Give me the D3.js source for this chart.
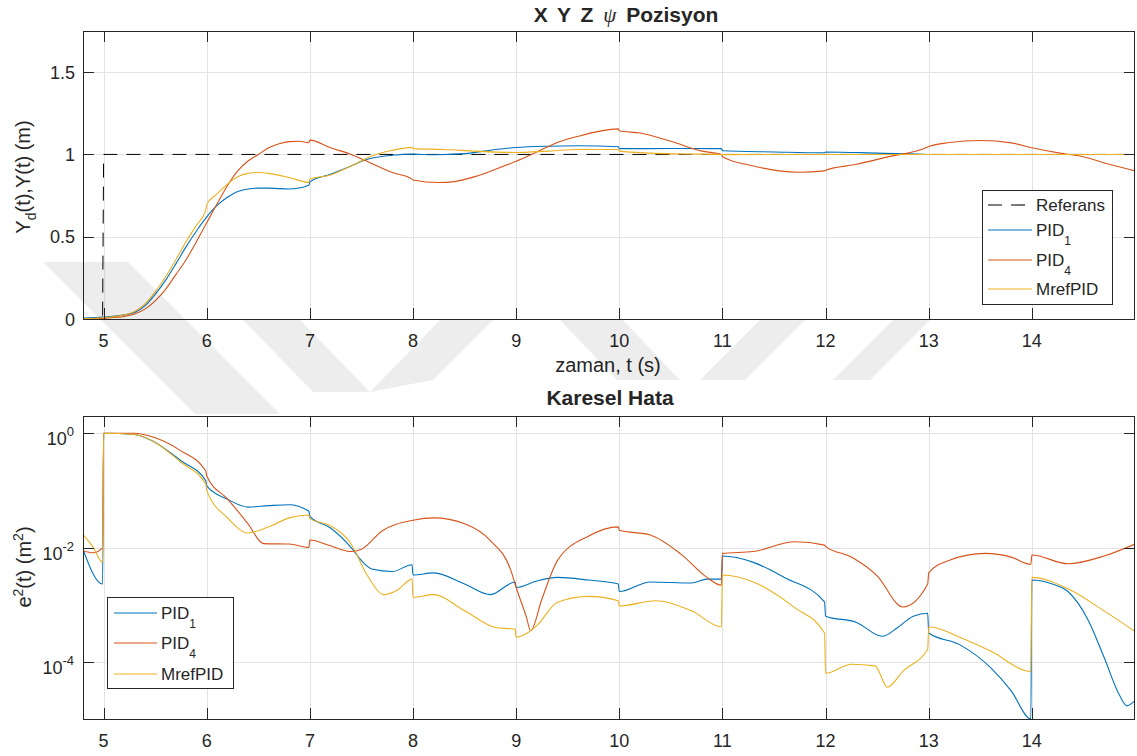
<!DOCTYPE html>
<html>
<head>
<meta charset="utf-8">
<script src="https://cdn.jsdelivr.net/npm/d3@7"></script>
<style>
  body { margin: 0; background: #fff; }
  text { font-family: "Liberation Sans", Arial, Helvetica, sans-serif; fill: #262626; }
</style>
</head>
<body>
<svg id="chart" width="1137" height="756"></svg>
<script>
// ---- tick values ----
const timeTicks = [5, 6, 7, 8, 9, 10, 11, 12, 13, 14];
const posTicks = [0, 0.5, 1, 1.5];
const errTicks = [1, 1e-2, 1e-4];
const errTickExp = ["0", "-2", "-4"];

// ---- position response ----
const refT = [4.8, 4.99, 5.0, 15];
const refY = [0, 0, 1, 1];

const pid1T = [4.8, 5.0, 5.2, 5.3, 5.4, 5.5, 5.6, 5.7, 5.8, 5.9, 6.0, 6.1, 6.2, 6.3, 6.4, 6.5, 6.6, 6.8, 6.99, 7.0, 7.2, 7.4, 7.53, 7.8, 8.0, 8.2, 8.5, 8.8, 9.0, 9.3, 9.6, 9.99, 10.0, 10.5, 10.99, 11.0, 11.5, 11.99, 12.0, 12.5, 13.0, 14.0, 15.0];
const pid1Y = [0.005, 0.012, 0.025, 0.04, 0.08, 0.15, 0.235, 0.335, 0.44, 0.535, 0.62, 0.69, 0.74, 0.775, 0.79, 0.795, 0.795, 0.79, 0.813, 0.833, 0.88, 0.93, 0.965, 0.995, 1.002, 0.998, 1.005, 1.03, 1.042, 1.05, 1.053, 1.047, 1.035, 1.036, 1.035, 1.022, 1.015, 1.01, 1.015, 1.008, 1.0, 1.0, 1.0];

const pid4T = [4.8, 5.0, 5.2, 5.3, 5.4, 5.5, 5.6, 5.7, 5.8, 5.9, 6.0, 6.1, 6.2, 6.3, 6.4, 6.5, 6.6, 6.7, 6.8, 6.9, 6.99, 7.0, 7.2, 7.4, 7.53, 7.8, 7.99, 8.0, 8.25, 8.4, 8.6, 8.8, 9.0, 9.2, 9.42, 9.6, 9.8, 9.99, 10.0, 10.2, 10.5, 10.8, 10.99, 11.0, 11.3, 11.55, 11.74, 11.99, 12.0, 12.3, 12.6, 12.99, 13.0, 13.2, 13.5, 13.8, 14.0, 14.3, 14.5, 14.75, 15.0];
const pid4Y = [0.0, 0.005, 0.015, 0.03, 0.06, 0.11, 0.18, 0.27, 0.36, 0.47, 0.585, 0.70, 0.81, 0.90, 0.96, 1.0, 1.04, 1.065, 1.078, 1.08, 1.072, 1.087, 1.04, 1.0, 0.965, 0.89, 0.85, 0.845, 0.829, 0.835, 0.865, 0.91, 0.959, 1.015, 1.077, 1.11, 1.14, 1.155, 1.144, 1.13, 1.08, 1.02, 1.0, 0.986, 0.93, 0.9, 0.892, 0.9, 0.904, 0.94, 0.985, 1.045, 1.048, 1.072, 1.085, 1.07, 1.041, 1.005, 0.986, 0.94, 0.90];

const mrefT = [4.8, 5.0, 5.2, 5.3, 5.4, 5.5, 5.6, 5.7, 5.8, 5.9, 5.99, 6.0, 6.1, 6.2, 6.3, 6.4, 6.5, 6.6, 6.8, 6.99, 7.0, 7.2, 7.4, 7.6, 7.8, 7.99, 8.0, 8.3, 8.6, 9.0, 9.3, 9.6, 9.99, 10.0, 10.3, 10.6, 10.99, 11.0, 12.0, 13.0, 14.0, 15.0];
const mrefY = [0.003, 0.008, 0.025, 0.045, 0.09, 0.165, 0.255, 0.36, 0.47, 0.57, 0.66, 0.695, 0.76, 0.82, 0.865, 0.885, 0.89, 0.885, 0.86, 0.83, 0.85, 0.875, 0.93, 0.99, 1.025, 1.043, 1.035, 1.03, 1.02, 1.012, 1.02, 1.03, 1.03, 1.02, 1.008, 1.003, 1.0, 0.999, 1.0, 1.0, 1.0, 1.0];

// ---- squared error ----
const ePid1T = [4.8, 4.99, 5.0, 5.3, 5.5, 5.75, 5.99, 6.0, 6.2, 6.4, 6.6, 6.8, 6.99, 7.0, 7.2, 7.4, 7.5, 7.6, 7.8, 7.99, 8.0, 8.2, 8.5, 8.75, 8.99, 9.0, 9.2, 9.4, 9.7, 9.99, 10.0, 10.3, 10.7, 10.85, 10.99, 11.0, 11.3, 11.6, 11.99, 12.0, 12.3, 12.55, 12.7, 12.85, 12.99, 13.0, 13.3, 13.6, 13.8, 13.99, 14.0, 14.2, 14.35, 14.55, 14.7, 14.85, 14.92, 15.0];
const ePid1 = [0.0093, 0.0023, 1.0, 0.95, 0.69, 0.33, 0.148, 0.12, 0.07, 0.051, 0.054, 0.056, 0.043, 0.035, 0.022, 0.01, 0.0059, 0.0042, 0.0038, 0.005, 0.0033, 0.0036, 0.0023, 0.0015, 0.0025, 0.002, 0.0026, 0.003, 0.0027, 0.0023, 0.0017, 0.0025, 0.0024, 0.0028, 0.0028, 0.0071, 0.0055, 0.003, 0.00112, 0.00063, 0.00049, 0.00028, 0.0004, 0.00063, 0.00071, 0.00032, 0.0002, 7.9e-5, 3.1e-5, 1e-5, 0.0027, 0.0023, 0.0017, 0.00052, 0.00012, 2.6e-5, 1.7e-5, 2.1e-5];

const ePid4T = [4.8, 4.9, 4.99, 5.0, 5.3, 5.5, 5.75, 5.99, 6.0, 6.2, 6.4, 6.55, 6.8, 6.99, 7.0, 7.2, 7.4, 7.5, 7.7, 8.0, 8.2, 8.5, 8.75, 8.95, 9.0, 9.1, 9.14, 9.25, 9.4, 9.7, 9.99, 10.0, 10.3, 10.6, 10.85, 10.99, 11.0, 11.3, 11.7, 11.99, 12.0, 12.25, 12.5, 12.75, 12.99, 13.0, 13.2, 13.55, 13.8, 13.99, 14.0, 14.35, 14.7, 15.0];
const ePid4 = [0.0087, 0.0081, 0.01, 1.0, 1.0, 0.83, 0.49, 0.22, 0.178, 0.071, 0.026, 0.0117, 0.0115, 0.01, 0.0135, 0.0107, 0.0085, 0.0093, 0.0195, 0.03, 0.033, 0.026, 0.0132, 0.0039, 0.002, 0.0006, 0.00035, 0.00126, 0.0059, 0.0158, 0.023, 0.020, 0.0166, 0.0076, 0.003, 0.0022, 0.0079, 0.0085, 0.0126, 0.011, 0.0105, 0.0068, 0.0032, 0.00091, 0.0023, 0.0036, 0.006, 0.0079, 0.0068, 0.0051, 0.0074, 0.0052, 0.0071, 0.0115];

const eMrefT = [4.8, 4.9, 4.99, 5.0, 5.3, 5.5, 5.75, 5.99, 6.0, 6.2, 6.4, 6.6, 6.8, 6.99, 7.0, 7.2, 7.4, 7.55, 7.72, 7.85, 7.99, 8.0, 8.2, 8.5, 8.8, 8.99, 9.0, 9.2, 9.4, 9.7, 9.99, 10.0, 10.35, 10.7, 10.99, 11.0, 11.3, 11.7, 11.99, 12.0, 12.25, 12.48, 12.6, 12.75, 12.99, 13.0, 13.3, 13.6, 13.99, 14.0, 14.35, 14.7, 15.0];
const eMref = [0.017, 0.01, 0.0055, 1.0, 0.95, 0.69, 0.31, 0.129, 0.1, 0.033, 0.018, 0.023, 0.033, 0.037, 0.032, 0.024, 0.0115, 0.0034, 0.0015, 0.0018, 0.0028, 0.00135, 0.0015, 0.00078, 0.0004, 0.00037, 0.00027, 0.00043, 0.0011, 0.0014, 0.00117, 0.00095, 0.00117, 0.00078, 0.00041, 0.0033, 0.0025, 0.00089, 0.00032, 6.3e-5, 9.1e-5, 8.5e-5, 3.6e-5, 6.9e-5, 0.000166, 0.00041, 0.00027, 0.000155, 6.8e-5, 0.003, 0.0019, 0.00078, 0.00034];

const colors = { ref: "#000000", pid1: "#0072BD", pid4: "#D95319", mref: "#EDB120" };

// ---- layout ----
const svg = d3.select("#chart");
const left = 83, right = 1135;
const top1 = { y0: 31, y1: 319 };
const bot1 = { y0: 416, y1: 719 };
const axisColor = "#262626";
const gridColor = "#e3e3e3";
const tickFont = 18;
const labelFont = 20;
const titleFont = 21;
const legendFont = 17;
const dash = "14,9";

const x = d3.scaleLinear().domain([4.8, 15]).range([left, right]);
const yPos = d3.scaleLinear().domain([0, 1.75]).range([top1.y1, top1.y0]);
const yErr = d3.scaleLog().domain([1e-5, 2]).range([bot1.y1, bot1.y0]);

const zip = (ts, vs) => ts.map((t, i) => [t, vs[i]]);

function panel(id, yScale, yTicks, box) {
  const g = svg.append("g");
  g.append("rect").attr("x", left).attr("y", box.y0).attr("width", right - left).attr("height", box.y1 - box.y0).attr("fill", "#fff");
  g.append("g").selectAll("line").data(timeTicks).join("line")
    .attr("x1", d => Math.round(x(d)) + 0.5).attr("x2", d => Math.round(x(d)) + 0.5)
    .attr("y1", box.y0).attr("y2", box.y1).attr("stroke", gridColor);
  g.append("g").selectAll("line").data(yTicks).join("line")
    .attr("x1", left).attr("x2", right)
    .attr("y1", d => Math.round(yScale(d)) + 0.5).attr("y2", d => Math.round(yScale(d)) + 0.5).attr("stroke", gridColor);
  svg.append("clipPath").attr("id", id).append("rect")
    .attr("x", left).attr("y", box.y0).attr("width", right - left).attr("height", box.y1 - box.y0);
  const plot = g.append("g").attr("clip-path", `url(#${id})`);
  return { g, plot };
}

function frame(g, yScale, yTicks, box) {
  const tl = 11;
  const tk = g.append("g").attr("stroke", axisColor).attr("stroke-width", 1);
  timeTicks.forEach(t => {
    const px = Math.round(x(t)) + 0.5;
    tk.append("line").attr("x1", px).attr("x2", px).attr("y1", box.y1).attr("y2", box.y1 - tl);
    tk.append("line").attr("x1", px).attr("x2", px).attr("y1", box.y0).attr("y2", box.y0 + tl);
  });
  yTicks.forEach(v => {
    const py = Math.round(yScale(v)) + 0.5;
    tk.append("line").attr("x1", left).attr("x2", left + tl).attr("y1", py).attr("y2", py);
    tk.append("line").attr("x1", right).attr("x2", right - tl).attr("y1", py).attr("y2", py);
  });
  g.append("rect").attr("x", left + 0.5).attr("y", box.y0 + 0.5)
    .attr("width", right - left - 1).attr("height", box.y1 - box.y0)
    .attr("fill", "none").attr("stroke", axisColor).attr("stroke-width", 1);
  g.append("g").selectAll("text").data(timeTicks).join("text")
    .attr("x", d => x(d)).attr("y", box.y1 + 28).attr("text-anchor", "middle")
    .attr("font-size", tickFont).text(d => d);
}

const line = (ys) => d3.line().x(d => x(d[0])).y(d => ys(d[1])).curve(d3.curveMonotoneX);

// ---- top panel: position ----
const P1 = panel("clipTop", yPos, posTicks, top1);
P1.plot.append("path").attr("d", d3.line().x(d => x(d[0])).y(d => yPos(d[1]))(zip(refT, refY)))
  .attr("fill", "none").attr("stroke", colors.ref).attr("stroke-width", 1).attr("stroke-dasharray", dash);
[[pid1T, pid1Y, colors.pid1], [pid4T, pid4Y, colors.pid4], [mrefT, mrefY, colors.mref]].forEach(([t, v, c]) => {
  P1.plot.append("path").attr("d", line(yPos)(zip(t, v))).attr("fill", "none").attr("stroke", c).attr("stroke-width", 1.1);
});
frame(P1.g, yPos, posTicks, top1);
P1.g.append("g").selectAll("text").data(posTicks).join("text")
  .attr("x", left - 8).attr("y", d => yPos(d) + 6.5).attr("text-anchor", "end").attr("font-size", tickFont)
  .text(d => d);

// ---- bottom panel: squared error (log) ----
const P2 = panel("clipBot", yErr, errTicks, bot1);
[[ePid1T, ePid1, colors.pid1], [ePid4T, ePid4, colors.pid4], [eMrefT, eMref, colors.mref]].forEach(([t, v, c]) => {
  P2.plot.append("path").attr("d", line(yErr)(zip(t, v))).attr("fill", "none").attr("stroke", c).attr("stroke-width", 1.1);
});
frame(P2.g, yErr, errTicks, bot1);
errTicks.forEach((v, i) => {
  const t = P2.g.append("text").attr("x", left - 9).attr("y", yErr(v) + 12).attr("text-anchor", "end").attr("font-size", tickFont);
  t.append("tspan").text("10");
  t.append("tspan").attr("dy", -9).attr("font-size", 13).text(errTickExp[i]);
});

// ---- titles and axis labels ----
const t1 = svg.append("text").attr("x", 626).attr("y", 22).attr("text-anchor", "middle")
  .attr("font-size", titleFont).attr("font-weight", "bold").attr("word-spacing", 4);
t1.append("tspan").text("X Y Z ");
t1.append("tspan").attr("font-family", "'Liberation Serif', 'DejaVu Serif', serif").attr("font-style", "italic").attr("font-weight", "normal").text("ψ");
t1.append("tspan").text(" Pozisyon");

svg.append("text").attr("x", 610).attr("y", 405).attr("text-anchor", "middle")
  .attr("font-size", titleFont).attr("font-weight", "bold").text("Karesel Hata");

svg.append("text").attr("x", 608).attr("y", 372).attr("text-anchor", "middle").attr("font-size", labelFont).text("zaman, t (s)");

const yl1 = svg.append("text").attr("transform", "translate(30,177) rotate(-90)").attr("text-anchor", "middle").attr("font-size", labelFont);
yl1.append("tspan").text("Y");
yl1.append("tspan").attr("dy", 6).attr("font-size", 14).text("d");
yl1.append("tspan").attr("dy", -6).text("(t),Y(t) (m)");

const yl2 = svg.append("text").attr("transform", "translate(31,567) rotate(-90)").attr("text-anchor", "middle").attr("font-size", labelFont);
yl2.append("tspan").text("e");
yl2.append("tspan").attr("dy", -8).attr("font-size", 14).text("2");
yl2.append("tspan").attr("dy", 8).text("(t) (m");
yl2.append("tspan").attr("dy", -8).attr("font-size", 14).text("2");
yl2.append("tspan").attr("dy", 8).text(")");

// ---- legends ----
function legend(bx, by, bw, bh, entries, rowY, lineX0, lineX1, textX) {
  const g = svg.append("g");
  g.append("rect").attr("x", bx + 0.5).attr("y", by + 0.5).attr("width", bw).attr("height", bh)
    .attr("fill", "#fff").attr("stroke", axisColor).attr("stroke-width", 1);
  entries.forEach((e, i) => {
    const yy = rowY[i];
    g.append("line").attr("x1", lineX0).attr("x2", lineX1).attr("y1", yy).attr("y2", yy)
      .attr("stroke", e.color).attr("stroke-width", 1.1).attr("stroke-dasharray", e.dash || null);
    const t = g.append("text").attr("x", textX).attr("y", yy + 6).attr("font-size", legendFont);
    t.append("tspan").text(e.label);
    if (e.sub) t.append("tspan").attr("dy", 9).attr("font-size", 12).text(e.sub);
  });
}
legend(982, 190, 130, 114, [
  { label: "Referans", color: colors.ref, dash: dash },
  { label: "PID", sub: "1", color: colors.pid1 },
  { label: "PID", sub: "4", color: colors.pid4 },
  { label: "MrefPID", color: colors.mref }
], [205, 230, 260, 289], 988, 1032, 1036);

legend(107, 597, 126, 91, [
  { label: "PID", sub: "1", color: colors.pid1 },
  { label: "PID", sub: "4", color: colors.pid4 },
  { label: "MrefPID", color: colors.mref }
], [613, 643, 674], 114, 157, 161);

// ---- faint page watermark ----
const watermark = [
  [[43, 262], [128, 262], [280, 414], [195, 414]],
  [[243, 320], [300, 320], [370, 392], [313, 392]],
  [[370, 392], [433, 380], [493, 320], [440, 320]],
  [[560, 320], [623, 320], [680, 380], [617, 380]],
  [[700, 380], [745, 380], [805, 320], [760, 320]],
  [[833, 380], [870, 380], [930, 320], [893, 320]]
];
svg.append("g").selectAll("path").data(watermark).join("path")
  .attr("d", d => "M" + d.join("L") + "Z")
  .attr("fill", "#000").attr("fill-opacity", 0.07);
</script>
</body>
</html>
